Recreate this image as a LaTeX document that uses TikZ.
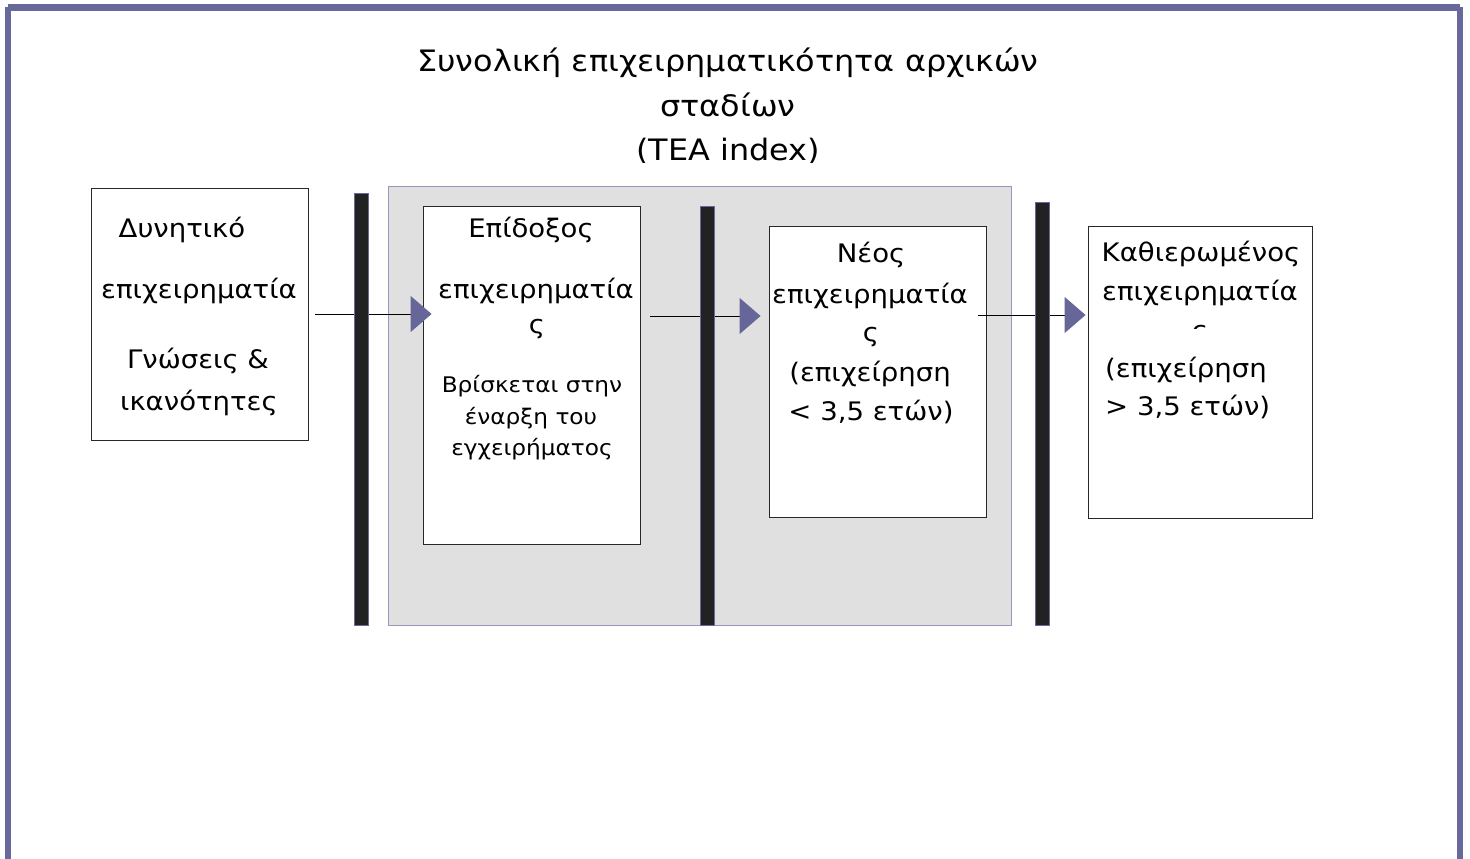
\documentclass[tikz,border=0pt]{standalone}
\usepackage{fontspec}
\setmainfont{DejaVu Sans}[FakeStretch=1.08]
\usetikzlibrary{arrows.meta}
\definecolor{framec}{RGB}{104,104,154}
\definecolor{panelc}{RGB}{224,224,224}
\definecolor{panelb}{RGB}{150,150,190}
\definecolor{barc}{RGB}{34,34,34}
\definecolor{headc}{RGB}{102,102,153}
\tikzset{
  box/.style={draw={rgb,255:red,40;green,40;blue,40}, line width=0.9pt, fill=white, minimum width=#1, inner sep=0pt},
  bar/.style={fill=barc, draw=framec, line width=0.8pt},
  txt/.style={font=\fontsize{25.5}{25.5}\selectfont, anchor=base, inner sep=0pt},
  ttl/.style={font=\fontsize{29.5}{29.5}\selectfont, anchor=base, inner sep=0pt},
  small/.style={font=\fontsize{21.5}{21.5}\selectfont, anchor=base, inner sep=0pt},
  conn/.style={black, line width=1pt, -{Triangle[width=36pt,length=21pt,color=headc]}}
}
\begin{document}
\begin{tikzpicture}[x=1pt,y=-1pt]
\useasboundingbox (0,0) rectangle (1470,859);
\clip (0,0) rectangle (1470,859);
% frame
\draw[framec, line width=6.5pt] (8,7.5) -- (1460,7.5);
\draw[framec, line width=6.5pt] (8,7.5) -- (8,870);
\draw[framec, line width=6.5pt] (1460,7.5) -- (1460,870);
% title
\begin{scope}
\clip (0,0) rectangle (1470,162);
\node[ttl] (t1) at (728,72) {Συνολική επιχειρηματικότητα αρχικών};
\node[ttl] (t2) at (728,116) {σταδίων};
\node[ttl] (t3) at (728,160) {(TEA index)};
\end{scope}
% grey panel
\filldraw[fill=panelc, draw=panelb, line width=1pt] (388,186) rectangle (1011,625);
% boxes
\node[box=217pt, minimum height=252pt] (b1) at (199.5,314) {};
\node[box=217pt, minimum height=338pt] (b2) at (531.5,375) {};
\node[box=217pt, minimum height=291pt] (b3) at (877.5,371.5) {};
\node[box=224pt, minimum height=292pt] (b4) at (1200,372) {};
% connectors
\coordinate (y2) at (0,316);
\coordinate (y3) at (0,315);
\draw[conn, shorten <=7pt, shorten >=-9pt] (b1.east) -- (b1.east -| b2.west);
\draw[conn, shorten <=10pt, shorten >=8pt] (b2.east |- y2) -- (b3.west |- y2);
\draw[conn, shorten <=-8pt, shorten >=2pt] (b3.east |- y3) -- (b4.west |- y3);
% bars
\draw[bar] (354,193) rectangle (368,625);
\draw[bar] (700,206) rectangle (714,625);
\draw[bar] (1035,202) rectangle (1049,625);
% box 1 text
\node[txt] (a1) at (182,237) {Δυνητικό};
\node[txt] (a2) at (199,298) {επιχειρηματία};
\node[txt] (a3) at (198,368) {Γνώσεις \&};
\node[txt] (a4) at (199,410) {ικανότητες};
% box 2 text
\node[txt] (c1) at (531,237) {Επίδοξος};
\node[txt] (c2) at (536,298) {επιχειρηματία};
\node[txt] (c3) at (537,333) {ς};
\node[small] (c4) at (532,392) {Βρίσκεται στην};
\node[small] (c5) at (531,424) {έναρξη του};
\node[small] (c6) at (532,455) {εγχειρήματος};
% box 3 text
\node[txt] (d1) at (871,262) {Νέος};
\node[txt] (d2) at (870,303) {επιχειρηματία};
\node[txt] (d3) at (871,341) {ς};
\node[txt] (d4) at (870,381) {(επιχείρηση};
\node[txt] (d5) at (871,420) {< 3,5 ετών)};
% box 4 text
\node[txt] (e1) at (1201,261) {Καθιερωμένος};
\node[txt] (e2) at (1200,300) {επιχειρηματία};
\begin{scope}
\clip (1090,300) rectangle (1310,328);
\node[txt] (e3) at (1200,339) {ς};
\end{scope}
\node[txt, anchor=base west] (e4) at (1105,377) {(επιχείρηση};
\node[txt, anchor=base west] (e5) at (1105,415) {> 3,5 ετών)};
\end{tikzpicture}
\end{document}
